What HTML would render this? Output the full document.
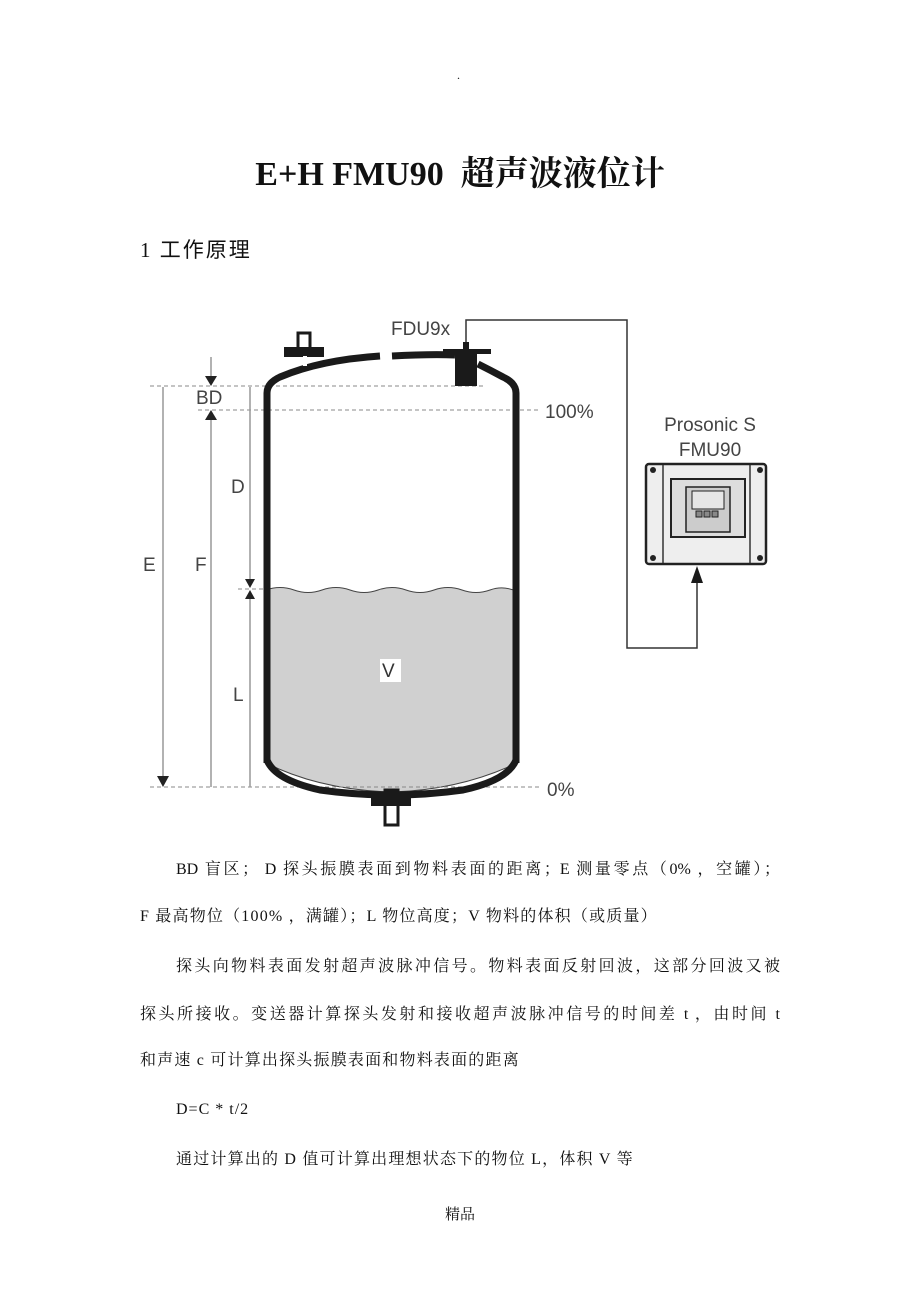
<!DOCTYPE html>
<html><head><meta charset="utf-8"><style>
body{margin:0;background:#fff;}
#p{position:relative;width:920px;height:1302px;overflow:hidden;font-family:"Liberation Serif","Noto Serif CJK SC",serif;color:#111;}
.t{position:absolute;white-space:nowrap;}
.l{position:absolute;font-size:16px;line-height:20px;white-space:nowrap;}
.j{text-align:justify;text-align-last:justify;}
</style></head><body><div id="p">
<div class="t" style="left:457px;top:68px;font-size:12px;">.</div>
<div class="t" style="left:0;width:920px;text-align:center;top:146px;font-size:34px;font-weight:bold;font-family:'Liberation Serif','Noto Serif CJK SC',serif;">E+H FMU90&nbsp; 超声波液位计</div>
<div class="t" style="left:140px;top:234px;font-size:21px;letter-spacing:2px;font-family:'Liberation Serif','Noto Sans CJK SC',serif;">1 工作原理</div>

<svg width="920" height="1302" style="position:absolute;left:0;top:0" font-family="Liberation Sans, sans-serif">
<!-- liquid -->
<path d="M266,590 q14,-5 28,0 t28,0 t28,0 t28,0 t28,0 t28,0 t28,0 t28,0 t28,2 L517,763 Q460,790 392,792 Q320,790 266,763z" fill="#d0d0d0" stroke="#444" stroke-width="1"/>
<g stroke="#888" stroke-width="1" stroke-dasharray="4,3" fill="none">
<line x1="150" y1="386" x2="485" y2="386"/>
<line x1="198" y1="410" x2="540" y2="410"/>
<line x1="238" y1="589" x2="268" y2="589"/>
<line x1="150" y1="787" x2="540" y2="787"/>
</g>
<path d="M267,763 L267,393 Q267,383 280,377 Q320,360 380,356" fill="none" stroke="#1a1a1a" stroke-width="7"/>
<path d="M516,763 L516,393 Q516,383 503,377 Q490,370 478,364" fill="none" stroke="#1a1a1a" stroke-width="7"/>
<path d="M392,356 Q430,354 455,355" fill="none" stroke="#1a1a1a" stroke-width="7"/>
<path d="M267,760 Q275,780 320,790 Q392,800 463,790 Q508,780 516,760" fill="none" stroke="#1a1a1a" stroke-width="7"/>
<rect x="284" y="347" width="40" height="10" fill="#1a1a1a"/>
<rect x="298" y="333" width="12" height="16" fill="none" stroke="#1a1a1a" stroke-width="3"/>
<rect x="303" y="356" width="4" height="10" fill="#fff"/>
<rect x="443" y="349" width="48" height="5" fill="#1a1a1a"/>
<rect x="455" y="352" width="22" height="34" fill="#1a1a1a"/>
<rect x="463" y="342" width="6" height="8" fill="#1a1a1a"/>
<rect x="371" y="797" width="40" height="9" fill="#1a1a1a"/>
<rect x="385" y="790" width="13" height="35" fill="none" stroke="#1a1a1a" stroke-width="3"/>
<polyline points="466,342 466,320 627,320 627,648 697,648 697,572" fill="none" stroke="#333" stroke-width="1.5"/>
<path d="M691,583 L697,566 L703,583z" fill="#1a1a1a"/>
<g stroke="#999" stroke-width="1.5">
<line x1="163" y1="387" x2="163" y2="780"/>
<line x1="211" y1="418" x2="211" y2="787"/>
<line x1="250" y1="387" x2="250" y2="583"/>
<line x1="250" y1="595" x2="250" y2="787"/>
<line x1="211" y1="357" x2="211" y2="380"/>
</g>
<path d="M157,776 L169,776 L163,787z" fill="#222"/>
<path d="M205,420 L217,420 L211,410z" fill="#222"/>
<path d="M205,376 L217,376 L211,386z" fill="#222"/>
<path d="M245,579 L255,579 L250,588z" fill="#222"/>
<path d="M245,599 L255,599 L250,590z" fill="#222"/>
<g fill="#444" font-size="19">
<text x="196" y="404">BD</text>
<text x="143" y="571">E</text>
<text x="195" y="571">F</text>
<text x="231" y="493">D</text>
<text x="233" y="701">L</text>
<text x="545" y="418">100%</text>
<text x="547" y="796">0%</text>
<text x="391" y="335">FDU9x</text>
<text x="710" y="431" text-anchor="middle">Prosonic S</text>
<text x="710" y="456" text-anchor="middle">FMU90</text>
</g>
<rect x="380" y="659" width="21" height="23" fill="#fff"/>
<text x="382" y="677" font-size="19" fill="#333">V</text>
<rect x="646" y="464" width="120" height="100" rx="3" fill="#eee" stroke="#222" stroke-width="2.5"/>
<line x1="663" y1="465" x2="663" y2="563" stroke="#333" stroke-width="1.5"/>
<line x1="750" y1="465" x2="750" y2="563" stroke="#333" stroke-width="1.5"/>
<circle cx="653" cy="470" r="3" fill="#222"/><circle cx="760" cy="470" r="3" fill="#222"/>
<circle cx="653" cy="558" r="3" fill="#222"/><circle cx="760" cy="558" r="3" fill="#222"/>
<rect x="671" y="479" width="74" height="58" fill="#ddd" stroke="#222" stroke-width="2"/>
<rect x="686" y="487" width="44" height="45" fill="#ccc" stroke="#222" stroke-width="1.5"/>
<rect x="692" y="491" width="32" height="18" fill="#e6e6e6" stroke="#222" stroke-width="1"/>
<rect x="696" y="511" width="6" height="6" fill="#888" stroke="#222"/><rect x="704" y="511" width="6" height="6" fill="#888" stroke="#222"/><rect x="712" y="511" width="6" height="6" fill="#888" stroke="#222"/>
</svg>

<div class="l j" style="left:176px;top:860px;width:604px;">BD 盲区； D 探头振膜表面到物料表面的距离；E 测量零点（0% ，空罐）；</div>
<div class="l" style="left:140px;top:907px;letter-spacing:1.2px;">F 最高物位（100% ，满罐）；L 物位高度；V 物料的体积（或质量）</div>
<div class="l j" style="left:176px;top:957px;width:604px;">探头向物料表面发射超声波脉冲信号。物料表面反射回波，这部分回波又被</div>
<div class="l j" style="left:140px;top:1005px;width:640px;">探头所接收。变送器计算探头发射和接收超声波脉冲信号的时间差 t ，由时间 t</div>
<div class="l" style="left:140px;top:1051px;letter-spacing:1.2px;">和声速 c 可计算出探头振膜表面和物料表面的距离</div>
<div class="l" style="left:176px;top:1100px;letter-spacing:1px;">D=C * t/2</div>
<div class="l" style="left:176px;top:1150px;letter-spacing:1.2px;">通过计算出的 D 值可计算出理想状态下的物位 L，体积 V 等</div>
<div class="l" style="left:0;width:920px;text-align:center;top:1205px;font-size:15px;">精品</div>
</div></body></html>
